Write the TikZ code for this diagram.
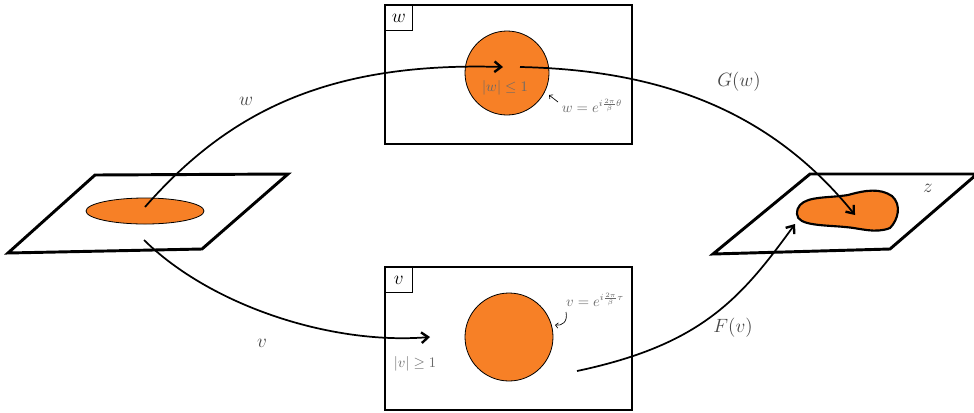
\documentclass[tikz,border=0pt]{standalone}
\usetikzlibrary{arrows.meta,shapes.geometric}
\definecolor{org}{RGB}{247,128,38}
\definecolor{txt}{RGB}{70,70,70}
\definecolor{gtxt}{RGB}{105,105,105}
\begin{document}
\begin{tikzpicture}[x=0.75pt,y=-0.75pt,
  plane/.style={draw,line width=2.2pt,line join=miter},
  frame/.style={draw,line width=0.9pt},
  disk/.style={draw,fill=org,line width=0.6pt},
  curve/.style={line width=1.3pt},
  arr/.style={curve,-{Straight Barb[length=5pt,width=8pt,line width=1.8pt]}},
  biglab/.style={text=txt,font=\fontsize{15}{18}\selectfont},
  smlab/.style={text=gtxt,font=\fontsize{10.5}{12}\selectfont},
  boxlab/.style={draw,line width=0.6pt,minimum width=20pt,minimum height=19pt,inner sep=0pt,anchor=north west,font=\fontsize{14}{16}\selectfont}]
\useasboundingbox (0,0) rectangle (974,412);
% planes
\draw[plane] (95,175) -- (288,174) -- (202,249) -- (8,253) -- cycle;
\draw[plane] (810,174) -- (977,174) -- (890,249) -- (713,254) -- cycle;
\node[disk,ellipse,minimum width=88.5pt,minimum height=19.5pt,inner sep=0pt] (E) at (145,211) {};
\draw[disk,line width=1.6pt] (800,205) .. controls (808,196) and (830,198) .. (848,195)
  .. controls (866,190) and (880,188) .. (892,196) .. controls (902,205) and (898,220) .. (890,228)
  .. controls (875,234) and (860,228) .. (845,227) .. controls (825,225) and (797,226) .. (797,214)
  .. controls (797,210) and (798,207) .. (800,205) -- cycle;
\node[biglab] (z) at (928,188) {$z$};
% boxes
\draw[frame] (385,5) rectangle (632,144);
\node[boxlab] (wl) at (385,5) {$w$};
\node[disk,circle,minimum size=63pt,inner sep=0pt] (W) at (507,73) {};
\node[smlab] (wlab) at (505,88) {$|w|\leq 1$};
\node[smlab] (weq) at (592,106) {$w=e^{i\frac{2\pi}{\beta}\theta}$};
\coordinate (wa) at (558,102);
\coordinate (wb) at (549,95);
\draw[-{Straight Barb[length=2pt]},line width=0.5pt] (wa) -- (wb);
\draw[frame] (385,267) rectangle (632,410);
\node[boxlab] (vl) at (385,267) {$v$};
\node[disk,circle,minimum size=66pt,inner sep=0pt] (V) at (509,337) {};
\node[smlab] (veq) at (595,300) {$v=e^{i\frac{2\pi}{\beta}\tau}$};
\node[smlab] (vlab) at (415,364) {$|v|\geq 1$};
\coordinate (va) at (566,312);
\coordinate (vb) at (555,325);
\draw[-{Straight Barb[length=2pt]},line width=0.5pt] (va) .. controls (568,322) and (562,326) .. (vb);
% curves
\coordinate (w0) at (145,207);
\coordinate (w1) at (503,67);
\coordinate (g0) at (520,67);
\coordinate (g1) at (855,215);
\coordinate (v0) at (144,240);
\coordinate (v1) at (430,337);
\coordinate (f0) at (577,371);
\coordinate (f1) at (795,224);
\draw[arr] (w0) .. controls (230,110) and (330,62) .. (w1);
\draw[arr] (g0) .. controls (660,70) and (770,110) .. (g1);
\draw[arr] (v0) .. controls (210,305) and (330,345) .. (v1);
\draw[arr] (f0) .. controls (700,345) and (740,300) .. (f1);
\node[biglab] (lw) at (246,101) {$w$};
\node[biglab] (lg) at (739,82) {$G(w)$};
\node[biglab] (lv) at (262,343) {$v$};
\node[biglab] (lf) at (733,328) {$F(v)$};
\end{tikzpicture}
\end{document}
